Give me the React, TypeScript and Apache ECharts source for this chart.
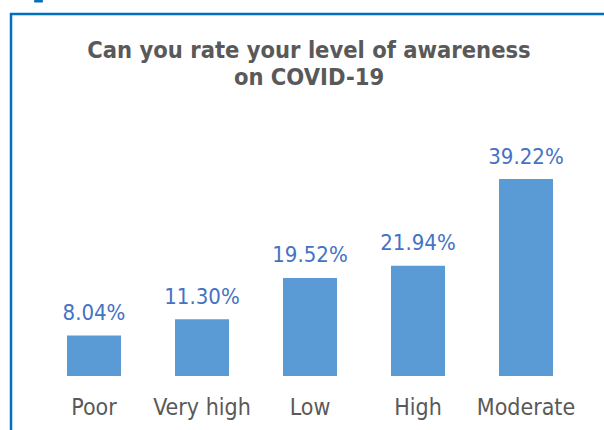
import React, { useEffect, useRef } from "react";
import * as echarts from "echarts";

const categories = ["Poor", "Very high", "Low", "High", "Moderate"];
const values = [8.04, 11.3, 19.52, 21.94, 39.22];
const titleText = "Can you rate your level of awareness\non COVID-19";

const FONT = "'DejaVu Sans Condensed', 'DejaVu Sans', sans-serif";

export default function App() {
  const ref = useRef<HTMLDivElement>(null);
  useEffect(() => {
    document.body.style.margin = "0";
    const chart = echarts.init(ref.current!, null, { renderer: "svg" });
    chart.setOption({
      animation: false,
      backgroundColor: "#ffffff",
      title: {
        text: titleText,
        left: 309,
        textAlign: "center",
        top: 36,
        padding: 0,
        textStyle: {
          fontFamily: FONT,
          fontWeight: "bold",
          fontSize: 23.5,
          lineHeight: 27,
          color: "#595959",
        },
      },
      grid: { left: 40, right: 24, top: 150, bottom: 54 },
      xAxis: {
        type: "category",
        data: categories,
        axisLine: { show: false },
        axisTick: { show: false },
        axisLabel: {
          fontFamily: FONT,
          fontSize: 23,
          color: "#595959",
          margin: 19,
          interval: 0,
        },
      },
      yAxis: {
        type: "value",
        min: 0,
        max: 45,
        show: false,
        splitLine: { show: false },
      },
      series: [
        {
          type: "bar",
          data: values,
          barWidth: 54,
          itemStyle: { color: "#5B9BD5" },
          label: {
            show: true,
            position: "top",
            distance: 12,
            fontFamily: FONT,
            fontSize: 22,
            color: "#4472C4",
            formatter: (p: any) => p.value.toFixed(2) + "%",
          },
        },
      ],
      graphic: [
        {
          type: "line",
          shape: { x1: 10, y1: 14, x2: 604, y2: 14 },
          style: { stroke: "#0070C0", lineWidth: 2.5 },
        },
        {
          type: "line",
          shape: { x1: 11, y1: 13, x2: 11, y2: 430 },
          style: { stroke: "#0070C0", lineWidth: 2.5 },
        },
        {
          type: "rect",
          shape: { x: 34, y: 0, width: 9, height: 2.5, r: 1 },
          style: { fill: "#0070C0" },
        },
      ],
    });
    return () => chart.dispose();
  }, []);
  return <div ref={ref} style={{ width: 604, height: 430 }} />;
}
